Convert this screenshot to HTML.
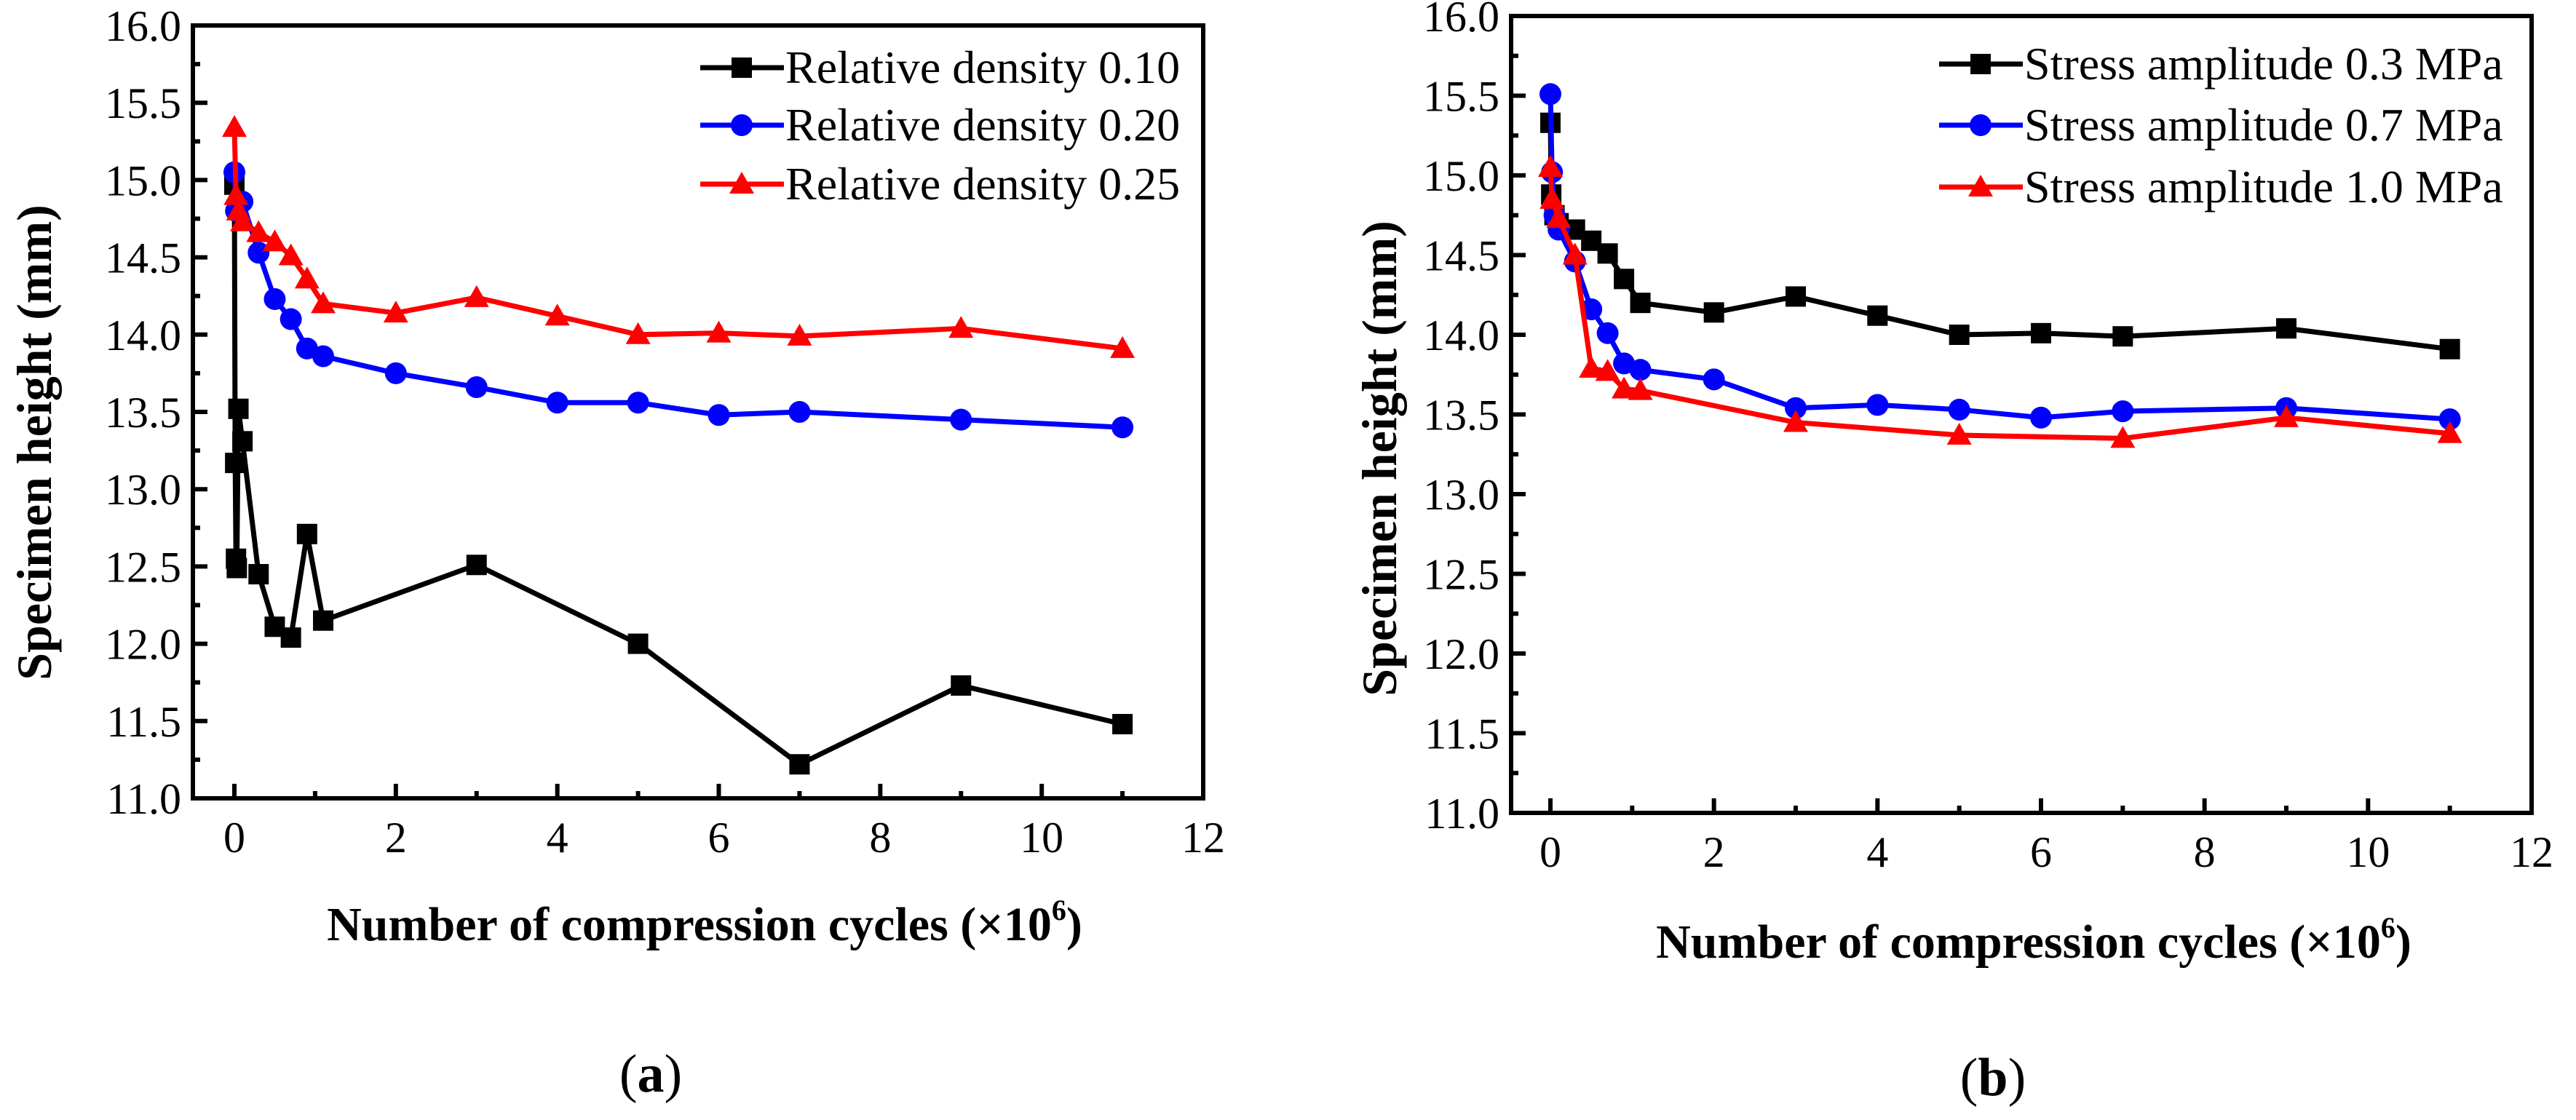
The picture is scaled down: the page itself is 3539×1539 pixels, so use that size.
<!DOCTYPE html>
<html><head><meta charset="utf-8"><style>
html,body{margin:0;padding:0;background:#fff;}
svg{display:block;}
text,tspan{font-family:"Liberation Serif","Times New Roman","Nimbus Roman","DejaVu Serif",serif;}
</style></head><body>
<svg id="fig" width="3539" height="1539" viewBox="0 0 3539 1539" xmlns="http://www.w3.org/2000/svg"></svg>
<script>
const xTicks=[0,2,4,6,8,10,12];
const yTicks=[11.0,11.5,12.0,12.5,13.0,13.5,14.0,14.5,15.0,15.5,16.0];
// Panel (a)
const aBlackX=[0,0.01,0.02,0.03,0.05,0.1,0.3,0.5,0.7,0.9,1.1,3,5,7,9,11];
const aBlackY=[14.97,13.17,12.55,12.49,13.52,13.31,12.45,12.11,12.04,12.71,12.15,12.51,12.00,11.22,11.73,11.48];
const aBlueX=[0,0.02,0.1,0.3,0.5,0.7,0.9,1.1,2,3,4,5,6,7,9,11];
const aBlueY=[15.05,14.80,14.86,14.53,14.23,14.10,13.91,13.86,13.75,13.66,13.56,13.56,13.48,13.50,13.45,13.40];
const aRedX=[0,0.02,0.05,0.1,0.3,0.5,0.7,0.9,1.1,2,3,4,5,6,7,9,11];
const aRedY=[15.34,14.90,14.80,14.73,14.66,14.60,14.51,14.36,14.20,14.14,14.24,14.12,14.00,14.01,13.99,14.04,13.91];
// Panel (b)
const bBlackX=[0,0.01,0.05,0.1,0.3,0.5,0.7,0.9,1.1,2,3,4,5,6,7,9,11];
const bBlackY=[15.33,14.88,14.75,14.70,14.66,14.59,14.51,14.35,14.20,14.14,14.24,14.12,14.00,14.01,13.99,14.04,13.91];
const bBlueX=[0,0.02,0.05,0.1,0.3,0.5,0.7,0.9,1.1,2,3,4,5,6,7,9,11];
const bBlueY=[15.51,15.02,14.75,14.66,14.46,14.16,14.01,13.82,13.78,13.72,13.54,13.56,13.53,13.48,13.52,13.54,13.47];
const bRedX=[0,0.02,0.1,0.3,0.5,0.7,0.9,1.1,3,5,7,9,11];
const bRedY=[15.05,14.85,14.73,14.50,13.79,13.77,13.66,13.65,13.45,13.37,13.35,13.48,13.38];
const legendA=["Relative density 0.10","Relative density 0.20","Relative density 0.25"];
const legendB=["Stress amplitude 0.3 MPa","Stress amplitude 0.7 MPa","Stress amplitude 1.0 MPa"];

const NS="http://www.w3.org/2000/svg";
const svg=document.getElementById('fig');
function mk(tag,attrs,parent){const e=document.createElementNS(NS,tag);for(const k in attrs)e.setAttribute(k,attrs[k]);(parent||svg).appendChild(e);return e;}

function panel(cfg){
  const g=mk('g',{});
  
  
  const L=cfg.left,R=cfg.right,T=cfg.top,B=cfg.bottom,ymin=11,ymax=16;
  const x0=cfg.x0, ux=(R-x0)/12;
  const sx=v=>x0+v*ux;
  const sy=v=>B-(v-ymin)/(ymax-ymin)*(B-T);
  for(let v=0;v<=12;v++){
    const major=v%2===0;
    const t=mk('line',{x1:sx(v),x2:sx(v),y1:B,y2:B-(major?20:10),stroke:'#000','stroke-width':6},g);
    
    
  }
  for(let i=0;i<=10;i++){
    const v=11+i*0.5;
    const t=mk('line',{x1:L,x2:L+20,y1:sy(v),y2:sy(v),stroke:'#000','stroke-width':6},g);
    
    
    if(v<16){
      const m=mk('line',{x1:L,x2:L+10,y1:sy(v+0.25),y2:sy(v+0.25),stroke:'#000','stroke-width':6},g);
      
      
    }
  }
  xTicks.forEach(v=>{
    const t=mk('text',{x:sx(v),y:B+74,'font-size':60,'text-anchor':'middle'},g);
    t.textContent=String(v);
    
    
  });
  yTicks.forEach(v=>{
    const t=mk('text',{x:L-16,y:sy(v)+21,'font-size':60,'text-anchor':'end'},g);
    t.textContent=v.toFixed(1);
    
    
  });
  const fr=mk('rect',{x:L,y:T,width:R-L,height:B-T,fill:'none',stroke:'#000','stroke-width':6},g);
  
  
  const colors=['#000','#0000ff','#ff0000'];
  const markers=['square','circle','triangle'];
  function marker(kind,x,y,c,parent){
    let e;
    if(kind==='square') e=mk('rect',{x:x-14,y:y-14,width:28,height:28,fill:c},parent);
    else if(kind==='circle') e=mk('circle',{cx:x,cy:y,r:15,fill:c},parent);
    else e=mk('polygon',{points:`${x},${y-17} ${x-17},${y+13} ${x+17},${y+13}`,fill:c},parent);
    return e;
  }
  cfg.series.forEach((s,i)=>{
    const sg=mk('g',{},g);
    
    
    const pts=s[0].map((xv,j)=>sx(xv)+','+sy(s[1][j])).join(' ');
    const pl=mk('polyline',{points:pts,fill:'none',stroke:colors[i],'stroke-width':7},sg);
    
    
    s[0].forEach((xv,j)=>{
      const m=marker(markers[i],sx(xv),sy(s[1][j]),colors[i],sg);
      
      
    });
    const ly=cfg.legY[i];
    const lg=mk('g',{},g);
    
    
    mk('line',{x1:cfg.legX,x2:cfg.legX+115,y1:ly,y2:ly,stroke:colors[i],'stroke-width':7},lg);
    marker(markers[i],cfg.legX+57,ly,colors[i],lg);
    const lt=mk('text',{x:cfg.legX+117,y:ly+21,'font-size':64},lg);
    lt.textContent=cfg.legend[i];
  });
  const xl=mk('text',{x:cfg.xlX,y:cfg.xlY,'font-size':66,'font-weight':'bold','text-anchor':'middle'},g);
  xl.innerHTML='Number of compression cycles (×10<tspan dy="-28" font-size="40">6</tspan><tspan dy="28">)</tspan>';
  
  
  const yl=mk('text',{x:0,y:0,'font-size':68,'font-weight':'bold','text-anchor':'middle',transform:`translate(${cfg.ylX},${cfg.ylY}) rotate(-90)`},g);
  yl.textContent='Specimen height (mm)';
  
  
  const cap=mk('text',{x:cfg.capX,y:cfg.capY,'font-size':74,'text-anchor':'middle'},g);
  cap.innerHTML='(<tspan font-weight="bold">'+cfg.cap+'</tspan>)';
  
  
}
panel({name:'panel-a',left:265,right:1653,top:35,bottom:1097,x0:322,
  series:[[aBlackX,aBlackY],[aBlueX,aBlueY],[aRedX,aRedY]],
  legend:legendA,legX:962,legY:[93,172,253],
  xlX:968,xlY:1292,ylX:70,ylY:608,capX:894,capY:1500,cap:'a'});
panel({name:'panel-b',left:2076,right:3478,top:22,bottom:1117,x0:2130,
  series:[[bBlackX,bBlackY],[bBlueX,bBlueY],[bRedX,bRedY]],
  legend:legendB,legX:2664,legY:[88,172,257],
  xlX:2794,xlY:1316,ylX:1918,ylY:630,capX:2738,capY:1505,cap:'b'});
</script>
</body></html>
